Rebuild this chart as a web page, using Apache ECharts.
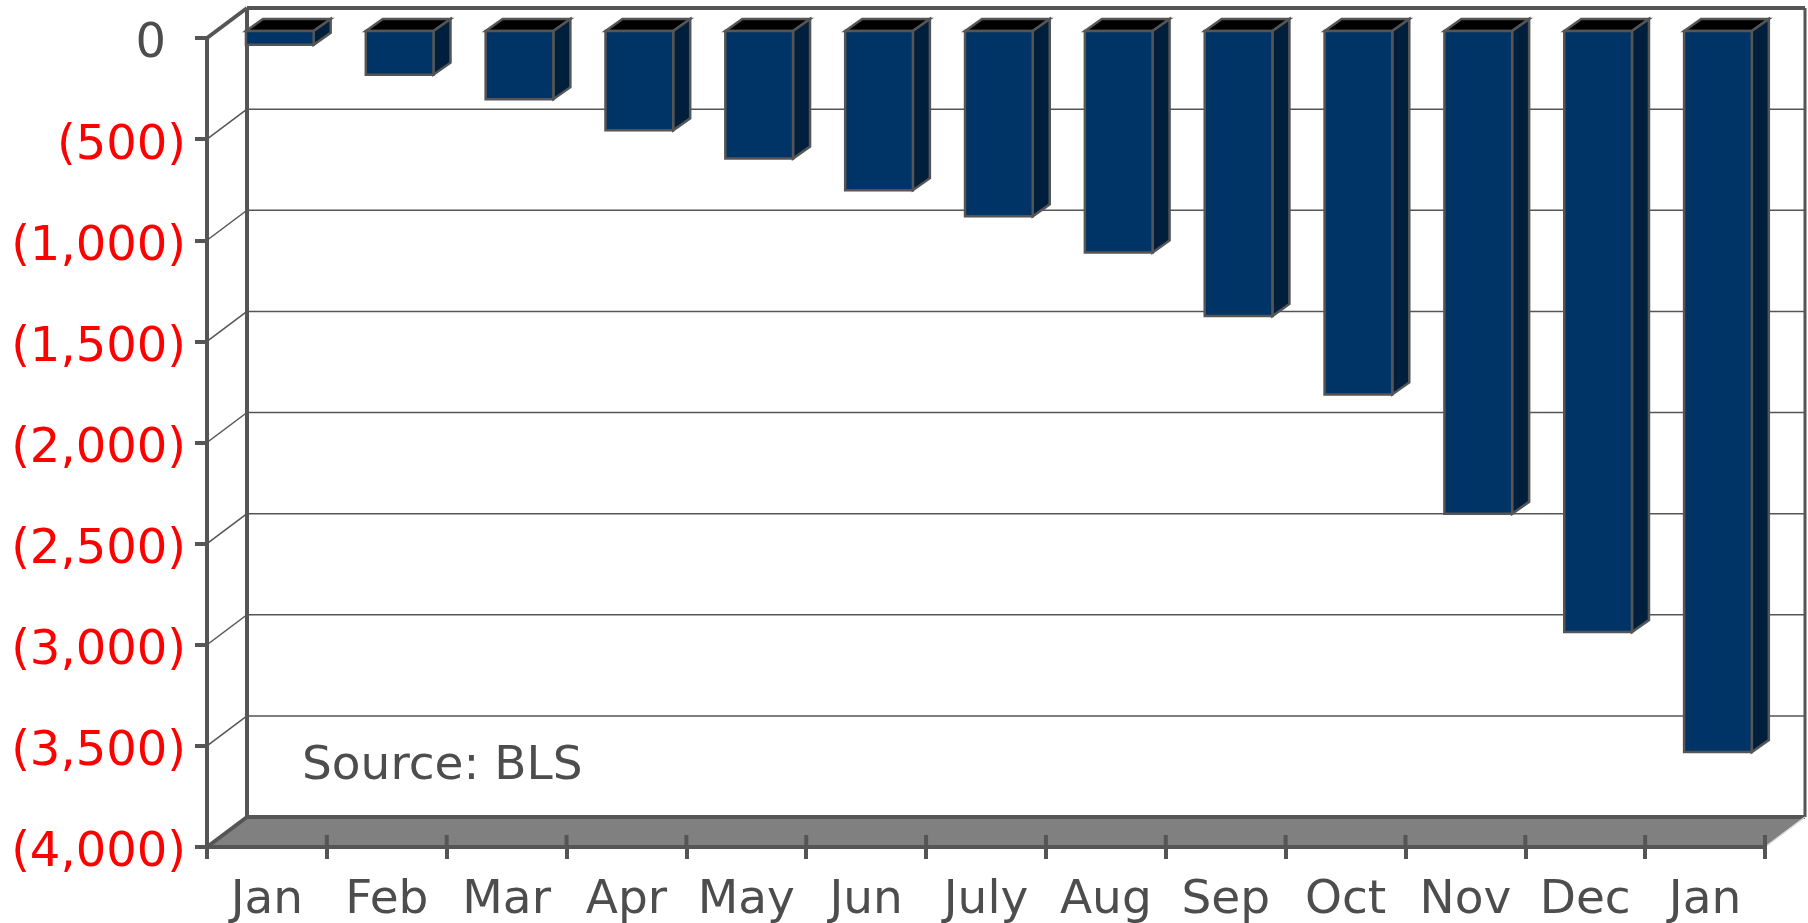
<!DOCTYPE html>
<html><head><meta charset="utf-8">
<style>html,body{margin:0;padding:0;background:#fff}#c{width:1808px;height:923px}</style>
<script src="https://cdn.jsdelivr.net/npm/echarts@6/dist/echarts.min.js"></script>
</head><body><div id="c"></div>
<script>
const categories = ['Jan','Feb','Mar','Apr','May','Jun','July','Aug','Sep','Oct','Nov','Dec','Jan'];
const jobLosses = [-68,-216,-337,-491,-631,-787,-916,-1095,-1409,-1797,-2387,-2972,-3565];
const yTicks = [0,-500,-1000,-1500,-2000,-2500,-3000,-3500,-4000];
const sourceNote = 'Source: BLS';

const INK = '#555555', TXT = '#4d4d4d', FRONT = '#003366', SIDE = '#001f3d', TOP = '#000000', FLOOR = '#808080';
const FS = 48, WALL_DX = 40, WALL_DY = -30, BAR_DX = 17, BAR_DY = -12, BAR_SHIFT = -7;
const chart = echarts.init(document.getElementById('c'), null, {renderer:'canvas'});

function line(x1,y1,x2,y2,w,c){return {type:'line',shape:{x1,y1,x2,y2},style:{stroke:c||INK,lineWidth:w}};}
function poly(points,fill,stroke,w){return {type:'polygon',shape:{points},style:{fill,stroke:stroke||null,lineWidth:w||0,lineJoin:'miter'}};}

function renderFrame(params, api){
  const cs = params.coordSys, L = cs.x, R = cs.x+cs.width;
  const y0 = api.coord([0,0])[1], yB = api.coord([0,-4000])[1];
  const kids = [];
  kids.push(poly([[L,yB],[L+WALL_DX,yB+WALL_DY],[R+WALL_DX,yB+WALL_DY],[R,yB]],FLOOR));
  yTicks.slice(1,-1).forEach(t=>{
    const y = api.coord([0,t])[1];
    kids.push(line(L,y,L+WALL_DX,y+WALL_DY,1.5));
    kids.push(line(L+WALL_DX,y+WALL_DY,R+WALL_DX,y+WALL_DY,1.5));
  });
  kids.push(line(L+WALL_DX,y0+WALL_DY,R+WALL_DX,y0+WALL_DY,4));
  kids.push(line(R+WALL_DX,y0+WALL_DY,R+WALL_DX,yB+WALL_DY,3));
  kids.push(line(L+WALL_DX,y0+WALL_DY,L+WALL_DX,yB+WALL_DY,4));
  kids.push(line(L+WALL_DX,yB+WALL_DY,R+WALL_DX,yB+WALL_DY,4));
  kids.push(line(L,y0,L+WALL_DX,y0+WALL_DY,4));
  kids.push(line(L,yB,L+WALL_DX,yB+WALL_DY,4));
  kids.push(line(R,yB,R+WALL_DX,yB+WALL_DY,1.5,'#d9d9d9'));
  categories.forEach((_,i)=>{
    const band = cs.width/categories.length, x = L+band*(i+1);
    kids.push(line(x,yB-12,x,yB,4));
  });
  return {type:'group',children:kids};
}

function renderBar(params, api){
  const p = api.coord([api.value(0),0]), q = api.coord([api.value(0),api.value(1)]);
  const band = api.size([1,0])[0];
  const l = p[0]-band*0.175, r = l+band*0.565, t = p[1]+BAR_SHIFT, b = q[1]+BAR_SHIFT;
  const dx = BAR_DX, dy = BAR_DY, sk = {stroke:INK,lineWidth:2.5};
  return {type:'group',children:[
    {type:'polygon',shape:{points:[[l,t],[l+dx,t+dy],[r+dx,t+dy],[r,t]]},style:Object.assign({fill:TOP},sk)},
    {type:'polygon',shape:{points:[[r,t],[r+dx,t+dy],[r+dx,b+dy],[r,b]]},style:Object.assign({fill:SIDE},sk)},
    {type:'rect',shape:{x:l,y:t,width:r-l,height:b-t},style:Object.assign({fill:FRONT},sk)}
  ]};
}

const labelRich = {fontFamily:'DejaVu Sans',fontSize:FS};
chart.setOption({
  animation:false,
  backgroundColor:'#fff',
  title:{text:sourceNote,left:297,top:738,textStyle:{fontFamily:'DejaVu Sans',fontSize:47,fontWeight:'normal',color:TXT}},
  grid:{left:207,right:43,top:38,bottom:76,containLabel:false,outerBoundsMode:'none'},
  xAxis:{type:'category',data:categories,boundaryGap:true,z:10,
    axisLine:{onZero:false,lineStyle:{color:INK,width:4}},
    axisTick:{show:true,alignWithLabel:false,interval:0,length:12,lineStyle:{color:INK,width:4}},
    axisLabel:{interval:0,margin:30,fontFamily:'DejaVu Sans',fontSize:47,color:TXT},
    splitLine:{show:false}},
  yAxis:{type:'value',min:-4000,max:0,interval:500,z:10,
    axisLine:{show:true,lineStyle:{color:INK,width:4}},
    axisTick:{show:true,length:12,lineStyle:{color:INK,width:4}},
    axisLabel:{margin:21,
      formatter:v=>v===0?'{zero|0}':'{neg|('+Math.abs(v).toLocaleString('en-US')+')}',
      rich:{zero:Object.assign({color:TXT,padding:[14,20,0,0]},labelRich),neg:Object.assign({color:'#ff0000',padding:[14,0,0,0]},labelRich)}},
    splitLine:{show:false}},
  series:[
    {type:'custom',name:'frame',z:1,silent:true,clip:false,data:[[0,0]],renderItem:renderFrame},
    {type:'custom',name:'Cumulative job losses',z:3,clip:false,
      data:jobLosses.map((v,i)=>[i,v]),encode:{x:0,y:1},renderItem:renderBar}
  ]
});
</script></body></html>
